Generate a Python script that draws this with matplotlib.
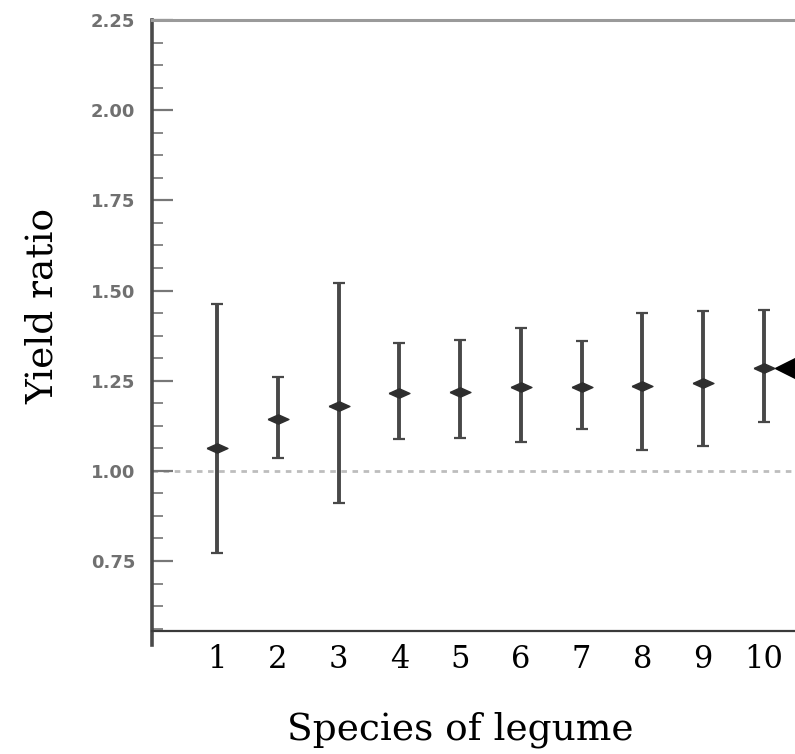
import matplotlib
matplotlib.use("Agg")
import matplotlib.pyplot as plt
from matplotlib.ticker import MultipleLocator, FormatStrFormatter
import numpy as np

# values
species = [1, 2, 3, 4, 5, 6, 7, 8, 9, 10]
means = [1.064, 1.144, 1.180, 1.217, 1.220, 1.233, 1.233, 1.235, 1.243, 1.285]
upper = [1.462, 1.260, 1.521, 1.355, 1.363, 1.396, 1.360, 1.438, 1.442, 1.446]
lower = [0.772, 1.036, 0.911, 1.087, 1.091, 1.080, 1.116, 1.058, 1.069, 1.136]
tick_labels = ["1", "2", "3", "4", "5", "6", "7", "8", "9", "10"]

means = np.array(means)
err = [means - np.array(lower), np.array(upper) - means]

fig = plt.figure(figsize=(7.95, 7.54), dpi=100)
ax = fig.add_axes([152 / 795, 123 / 754, 1 - 152 / 795, 611 / 754])

# squashed diamond used for the point estimates
diamond = [(-1, 0), (0, 0.45), (1, 0), (0, -0.45), (-1, 0)]

ax.axhline(1.0, color="#bdbdbd", lw=2, linestyle=(0, (2, 2)), zorder=1)
ax.errorbar(species, means, yerr=err, fmt="none", ecolor="#484848",
            elinewidth=2.8, capsize=4.5, capthick=1.6, zorder=3)
ax.plot(species, means, linestyle="none", marker=diamond, ms=15,
        color="#2e2e2e", zorder=4)

# arrow pointing at the last species
ax.plot([species[-1] + 0.36], [means[-1]], marker="<", ms=16, color="black",
        linestyle="none", clip_on=False, zorder=5)

ax.set_xlim(-0.069, 10.51)
ax.set_ylim(0.556, 2.25)

ax.set_xticks(species)
ax.set_xticklabels(tick_labels, family="DejaVu Serif", fontsize=22)
ax.tick_params(axis="x", length=0, pad=9)

ax.yaxis.set_major_locator(MultipleLocator(0.25))
ax.yaxis.set_minor_locator(MultipleLocator(0.0625))
ax.yaxis.set_major_formatter(FormatStrFormatter("%.2f"))
ax.tick_params(axis="y", which="major", direction="in", length=15, width=1.6,
               color="#777777", pad=12, labelsize=13, labelcolor="#707070")
ax.tick_params(axis="y", which="minor", direction="in", length=8, width=1.4,
               color="#888888")
for lab in ax.get_yticklabels():
    lab.set_fontweight("bold")

ax.spines["right"].set_visible(False)
ax.spines["top"].set_color("#9a9a9a")
ax.spines["top"].set_linewidth(2.2)
ax.spines["bottom"].set_color("#3a3a3a")
ax.spines["bottom"].set_linewidth(1.6)
ax.spines["left"].set_color("#4a4a4a")
ax.spines["left"].set_linewidth(2.6)
ax.spines["left"].set_bounds(0.517, 2.25)

ax.set_xlabel("Species of legume", family="DejaVu Serif", fontsize=27)
ax.xaxis.set_label_coords(0.479, -0.131)
ax.set_ylabel("Yield ratio", family="DejaVu Serif", fontsize=27)
ax.yaxis.set_label_coords(-0.142, 0.532)

fig.savefig("out.png", dpi=100)
